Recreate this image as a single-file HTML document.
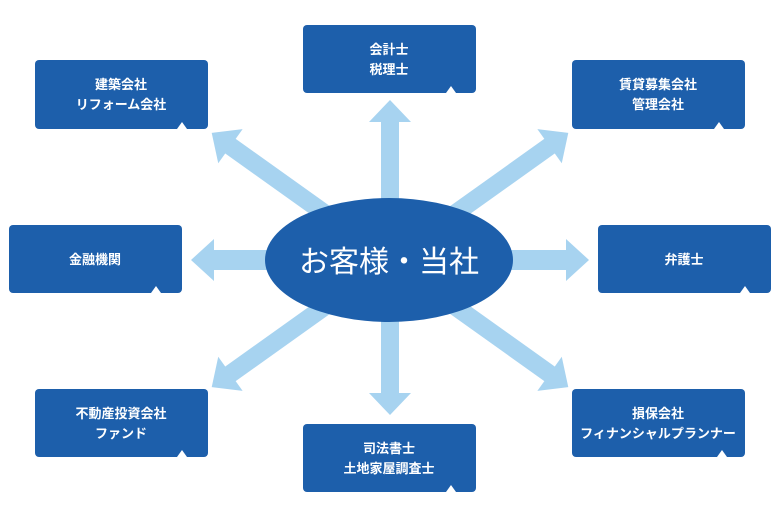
<!DOCTYPE html>
<html><head><meta charset="utf-8"><style>
body{margin:0;width:780px;height:520px;background:#fff;overflow:hidden;font-family:"Liberation Sans","Noto Sans CJK JP",sans-serif;}
svg{position:absolute;left:0;top:0}
</style></head><body>
<svg width="780" height="520" viewBox="0 0 780 520">
<defs>
<polygon id="ar" points="0,-9 -22,-9 -22,-20 0,0 -22,20 -22,9 0,9" />
</defs>
<g fill="#a7d3f0">
<!-- arrow: shaft from center then head -->
<g transform="translate(390,260) rotate(-90)"><rect x="0" y="-9" width="140" height="18"/><polygon points="138,-21 160,0 138,21"/></g>
<g transform="translate(390,260) rotate(90)"><rect x="0" y="-9" width="135" height="18"/><polygon points="133,-21 155,0 133,21"/></g>
<g transform="translate(390,260) rotate(180)"><rect x="0" y="-10" width="178" height="20"/><polygon points="176,-21 199,0 176,21"/></g>
<g transform="translate(390,260)"><rect x="0" y="-10" width="178" height="20"/><polygon points="176,-21 199,0 176,21"/></g>
<g transform="translate(390,260) rotate(-144.5)"><rect x="0" y="-9" width="200" height="18"/><polygon points="196,-21 219,0 196,21"/></g>
<g transform="translate(390,260) rotate(-35.5)"><rect x="0" y="-9" width="200" height="18"/><polygon points="196,-21 219,0 196,21"/></g>
<g transform="translate(390,260) rotate(144.5)"><rect x="0" y="-9" width="200" height="18"/><polygon points="196,-21 219,0 196,21"/></g>
<g transform="translate(390,260) rotate(35.5)"><rect x="0" y="-9" width="200" height="18"/><polygon points="196,-21 219,0 196,21"/></g>
</g>
<ellipse cx="389" cy="260" rx="124" ry="62" fill="#1d5fab"/>
<text x="389" y="272" text-anchor="middle" fill="#fff" font-size="30" font-family="Liberation Sans, Noto Sans CJK JP, sans-serif">お客様・当社</text>
<g fill="#1d5fab">
<rect x="303" y="25" width="173" height="68" rx="4"/>
<rect x="35" y="60" width="173" height="69" rx="4"/>
<rect x="572" y="60" width="173" height="69" rx="4"/>
<rect x="9" y="225" width="173" height="68" rx="4"/>
<rect x="598" y="225" width="173" height="68" rx="4"/>
<rect x="35" y="389" width="173" height="68" rx="4"/>
<rect x="572" y="389" width="173" height="68" rx="4"/>
<rect x="303" y="424" width="173" height="68" rx="4"/>
</g>
<g fill="#fff">
<polygon points="446,93 451,86 456,93"/>
<polygon points="177,129 182,122 187,129"/>
<polygon points="714,129 719,122 724,129"/>
<polygon points="151,293 156,286 161,293"/>
<polygon points="740,293 745,286 750,293"/>
<polygon points="177,457 182,450 187,457"/>
<polygon points="717,457 722,450 727,457"/>
<polygon points="446,492 451,485 456,492"/>
</g>
<g fill="#fff" font-size="13" font-weight="bold" text-anchor="middle">
<text x="389" y="54">会計士</text><text x="389" y="74">税理士</text>
<text x="121" y="89">建築会社</text><text x="121" y="109">リフォーム会社</text>
<text x="658" y="89">賃貸募集会社</text><text x="658" y="109">管理会社</text>
<text x="95" y="264">金融機関</text>
<text x="684" y="264">弁護士</text>
<text x="121" y="418">不動産投資会社</text><text x="121" y="438">ファンド</text>
<text x="658" y="418">損保会社</text><text x="658" y="438">フィナンシャルプランナー</text>
<text x="389" y="453">司法書士</text><text x="389" y="473">土地家屋調査士</text>
</g>
</svg>
</body></html>
